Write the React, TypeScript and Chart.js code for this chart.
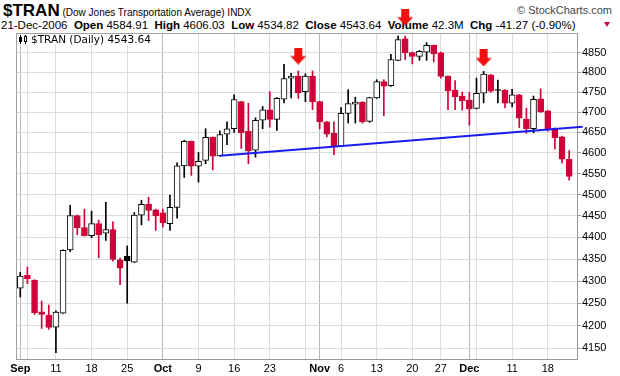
import React, { useEffect, useRef } from "react";
import { Chart, registerables } from "chart.js";

Chart.register(...registerables);

// Trading days shown (Sep 1 – Dec 21, 2006)
const tradingDays = [
  "9/1", "9/5", "9/6", "9/7", "9/8", "9/11", "9/12", "9/13", "9/14", "9/15",
  "9/18", "9/19", "9/20", "9/21", "9/22", "9/25", "9/26", "9/27", "9/28", "9/29",
  "10/2", "10/3", "10/4", "10/5", "10/6", "10/9", "10/10", "10/11", "10/12", "10/13",
  "10/16", "10/17", "10/18", "10/19", "10/20", "10/23", "10/24", "10/25", "10/26", "10/27",
  "10/30", "10/31", "11/1", "11/2", "11/3", "11/6", "11/7", "11/8", "11/9", "11/10",
  "11/13", "11/14", "11/15", "11/16", "11/17", "11/20", "11/21", "11/22", "11/24", "11/27",
  "11/28", "11/29", "11/30", "12/1", "12/4", "12/5", "12/6", "12/7", "12/8", "12/11",
  "12/12", "12/13", "12/14", "12/15", "12/18", "12/19", "12/20", "12/21",
];

const opens = [
  4284, 4313, 4302, 4231, 4223, 4197, 4228, 4371, 4451, 4423,
  4404, 4432, 4410, 4418, 4348, 4357, 4343, 4452, 4478, 4464,
  4457, 4432, 4470, 4569, 4628, 4568, 4582, 4638, 4593, 4646,
  4659, 4726, 4653, 4607, 4680, 4706, 4682, 4732, 4785, 4790,
  4751, 4790, 4726, 4676, 4648, 4617, 4697, 4720, 4725, 4677,
  4735, 4776, 4766, 4830, 4885, 4850, 4840, 4851, 4868, 4849,
  4790, 4755, 4740, 4730, 4709, 4747, 4793, 4756, 4755, 4722,
  4743, 4683, 4659, 4733, 4703, 4660, 4639, 4584.91,
];
const highs = [
  4320, 4332, 4303, 4255, 4246, 4233, 4371, 4475, 4452, 4466,
  4461, 4440, 4482, 4436, 4352, 4380, 4458, 4487, 4494, 4466,
  4466, 4499, 4576, 4631, 4629, 4601, 4659, 4639, 4654, 4676,
  4743, 4727, 4722, 4686, 4714, 4751, 4736, 4820, 4797, 4803,
  4796, 4803, 4727, 4677, 4676, 4711, 4756, 4737, 4726, 4737,
  4781, 4781, 4845, 4892, 4892, 4851, 4855, 4875, 4869, 4851,
  4791, 4779, 4750, 4749, 4785, 4802, 4794, 4780, 4756, 4757,
  4744, 4710, 4740, 4758, 4704, 4661, 4641, 4606.03,
];
const lows = [
  4264, 4294, 4225, 4194, 4192, 4141, 4227, 4367, 4406, 4403,
  4399, 4353, 4393, 4345, 4292, 4250, 4342, 4429, 4439, 4416,
  4424, 4416, 4445, 4541, 4546, 4530, 4574, 4559, 4592, 4620,
  4650, 4611, 4574, 4590, 4659, 4663, 4655, 4723, 4735, 4734,
  4726, 4706, 4659, 4639, 4596, 4616, 4673, 4673, 4673, 4675,
  4734, 4691, 4764, 4829, 4832, 4821, 4830, 4830, 4826, 4785,
  4706, 4706, 4705, 4668, 4708, 4723, 4749, 4723, 4711, 4713,
  4662, 4648, 4649, 4699, 4653, 4610, 4576, 4534.82,
];
const closes = [
  4311, 4305, 4229, 4225, 4196, 4230, 4370, 4451, 4422, 4404,
  4432, 4406, 4418, 4349, 4329, 4346, 4452, 4477, 4463, 4450,
  4434, 4470, 4569, 4628, 4568, 4580, 4638, 4592, 4645, 4659,
  4731, 4649, 4605, 4680, 4706, 4682, 4734, 4784, 4790, 4748,
  4790, 4726, 4676, 4646, 4617, 4697, 4721, 4725, 4676, 4736,
  4776, 4765, 4832, 4883, 4849, 4840, 4853, 4868, 4847, 4789,
  4753, 4738, 4728, 4708, 4747, 4795, 4752, 4754, 4722, 4743,
  4685, 4659, 4732, 4701, 4658, 4637, 4584.91, 4543.64,
];

// Axis ticks
const yTicks = [4150, 4200, 4250, 4300, 4350, 4400, 4450, 4500, 4550, 4600, 4650, 4700, 4750, 4800, 4850];
const xTickDates = ["9/1", "9/5", "9/11", "9/18", "9/25", "10/2", "10/9", "10/16", "10/23", "10/30", "11/1", "11/6", "11/13", "11/20", "11/27", "12/1", "12/4", "12/11", "12/18"];
const xTickLabels = ["Sep", "", "11", "18", "25", "Oct", "9", "16", "23", "", "Nov", "6", "13", "20", "27", "Dec", "", "11", "18"];
const monthDates = ["9/1", "10/2", "11/1", "12/1"];

// Trend line (date index, price)
const trendX = [28, 78.9];
const trendY = [4593, 4664];

// Red marker arrows (date, price)
const arrowDates = ["10/27", "11/17", "12/5"];
const arrowY = [4841, 4941, 4836];

const RED = "#d20038";
const ARROW_RED = "#f01010";
const BLUE = "#1a1aee";
const FONT = "'Liberation Sans', Arial, sans-serif";

export default function App() {
  const ref = useRef<HTMLCanvasElement>(null);

  useEffect(() => {
    const canvas = ref.current;
    if (!canvas) return;

    const arrowImg = document.createElement("canvas");
    arrowImg.width = 16;
    arrowImg.height = 17;
    const g = arrowImg.getContext("2d")!;
    g.fillStyle = ARROW_RED;
    g.fillRect(4, 0, 8, 9);
    g.beginPath();
    g.moveTo(0, 8.5);
    g.lineTo(16, 8.5);
    g.lineTo(8, 17);
    g.closePath();
    g.fill();

    const ix = opens.map((_, i) => i);
    const isUp = (i: number) => i === 0 || closes[i] >= closes[i - 1];
    const col = ix.map((i) => (isUp(i) ? "#000000" : RED));
    const fill = ix.map((i) => (closes[i] < opens[i] ? col[i] : "#ffffff"));
    const tickIdx = xTickDates.map((d) => tradingDays.indexOf(d));
    const monthIdx = monthDates.map((d) => tradingDays.indexOf(d));
    const arrowIdx = arrowDates.map((d) => tradingDays.indexOf(d));

    const framePlugin = {
      id: "frame",
      afterDraw(chart: any) {
        const { ctx, chartArea: a } = chart;
        ctx.save();
        ctx.strokeStyle = "#a0a0a0";
        ctx.lineWidth = 1;
        ctx.beginPath();
        ctx.moveTo(Math.round(a.left) + 0.5, Math.round(a.bottom));
        ctx.lineTo(Math.round(a.left) + 0.5, Math.round(a.top) + 0.5);
        ctx.lineTo(Math.round(a.right), Math.round(a.top) + 0.5);
        ctx.stroke();
        ctx.restore();
      },
    };

    const chart = new Chart(canvas, {
      type: "bar",
      data: {
        datasets: [
          {
            type: "bar",
            label: "wick",
            data: ix.map((i) => ({ x: i, y: [lows[i], highs[i]] })),
            backgroundColor: col,
            barThickness: 1,
            grouped: false,
            order: 3,
          } as any,
          {
            type: "bar",
            label: "body",
            data: ix.map((i) => ({ x: i, y: [opens[i], closes[i]] })),
            backgroundColor: fill,
            borderColor: col,
            borderWidth: 1,
            borderSkipped: false,
            barThickness: 6,
            grouped: false,
            order: 2,
          } as any,
          {
            type: "line",
            label: "trend",
            data: trendX.map((x, k) => ({ x, y: trendY[k] })),
            borderColor: BLUE,
            borderWidth: 2,
            pointRadius: 0,
            clip: false,
            order: 1,
          } as any,
          {
            type: "scatter",
            label: "arrows",
            data: arrowIdx.map((x, k) => ({ x, y: arrowY[k] })),
            pointStyle: arrowImg,
            pointRadius: 22,
            pointHoverRadius: 22,
            clip: false,
            order: 0,
          } as any,
        ],
      },
      options: {
        responsive: false,
        animation: false,
        devicePixelRatio: 1,
        events: [],
        layout: { autoPadding: false, padding: { left: 16, top: 33, right: 0, bottom: 0 } },
        plugins: { legend: { display: false }, tooltip: { enabled: false } },
        scales: {
          x: {
            type: "linear",
            min: -0.6,
            max: 78.1,
            offset: false,
            afterBuildTicks: (s: any) => {
              s.ticks = tickIdx.map((v) => ({ value: v }));
            },
            afterFit: (s: any) => {
              s.height = 17;
              s.paddingLeft = 0;
              s.paddingRight = 0;
            },
            grid: {
              offset: false,
              drawTicks: false,
              color: (c: any) => (c.tick && monthIdx.includes(c.tick.value) ? "#b8b8b8" : "#dcdcdc"),
            },
            border: { color: "#999999" },
            ticks: {
              autoSkip: false,
              maxRotation: 0,
              padding: 3,
              color: "#000",
              font: (c: any) => ({
                family: FONT,
                size: 11,
                weight: c.tick && monthIdx.includes(c.tick.value) ? "bold" : "normal",
              }),
              callback: (v: any) => {
                const k = tickIdx.indexOf(Number(v));
                return k >= 0 ? xTickLabels[k] : "";
              },
            },
          },
          y: {
            type: "logarithmic",
            position: "right",
            min: 4127,
            max: 4900,
            afterBuildTicks: (s: any) => {
              s.ticks = yTicks.map((v) => ({ value: v }));
            },
            afterFit: (s: any) => {
              s.width = 43;
              s.paddingTop = 0;
              s.paddingBottom = 0;
            },
            grid: { color: "#dcdcdc", tickLength: 4, tickColor: "#999999" },
            border: { color: "#999999" },
            ticks: {
              padding: 1,
              color: "#000",
              font: { family: FONT, size: 11 },
              callback: (v: any) => String(v),
            },
          },
        },
      } as any,
      plugins: [framePlugin],
    });

    return () => chart.destroy();
  }, []);

  return (
    <div
      style={{
        position: "fixed",
        left: 0,
        top: 0,
        width: 620,
        height: 376,
        background: "#fff",
        overflow: "hidden",
        fontFamily: FONT,
        color: "#000",
      }}
    >
      <div style={{ position: "absolute", left: 3, top: 1, whiteSpace: "pre", lineHeight: "20px", zIndex: 0 }}>
        <span style={{ fontFamily: "'Liberation Sans Narrow', 'Arial Narrow', " + FONT, fontWeight: "bold", fontSize: 17 }}>
          $TRAN
        </span>
        <span style={{ fontSize: 10 }}> (Dow Jones Transportation Average) INDX</span>
      </div>
      <div style={{ position: "absolute", right: 8, top: 3, fontSize: 11, lineHeight: "14px", color: "#444", zIndex: 0 }}>
        © StockCharts.com
      </div>
      <div style={{ position: "absolute", left: 1, top: 18, whiteSpace: "pre", fontSize: 11.5, lineHeight: "14px", zIndex: 0 }}>
        <span>21-Dec-2006  </span>
        <b>Open</b>
        <span> 4584.91  </span>
        <b>High</b>
        <span> 4606.03  </span>
        <b>Low</b>
        <span> 4534.82  </span>
        <b>Close</b>
        <span> 4543.64  </span>
        <b>Volume</b>
        <span> 42.3M  </span>
        <b>Chg</b>
        <span> -41.27 (-0.90%)</span>
      </div>
      <div
        style={{
          position: "absolute",
          left: 604,
          top: 22,
          width: 0,
          height: 0,
          borderLeft: "3.5px solid transparent",
          borderRight: "3.5px solid transparent",
          borderTop: "5px solid " + RED,
          zIndex: 0,
        }}
      />
      <canvas ref={ref} width={620} height={376} style={{ position: "absolute", left: 0, top: 0, zIndex: 1 }} />
      <div
        style={{
          position: "absolute",
          left: 17,
          top: 34,
          height: 11,
          background: "#fff",
          zIndex: 2,
          whiteSpace: "pre",
          fontFamily: "'DejaVu Sans', Verdana, sans-serif",
          fontSize: 10.5,
          lineHeight: "11px",
          padding: "0 3px 0 2px",
          display: "flex",
          alignItems: "center",
        }}
      >
        <svg width="10" height="9" style={{ marginRight: 2 }}>
          <line x1="1.5" y1="0" x2="1.5" y2="9" stroke="#000" strokeWidth="1" />
          <rect x="0" y="2" width="3" height="5" fill="#000" />
          <line x1="6.5" y1="0" x2="6.5" y2="9" stroke="#000" strokeWidth="1" />
          <rect x="5.5" y="1.5" width="2" height="5" fill="#fff" stroke="#000" strokeWidth="1" />
        </svg>
        <span>$TRAN (Daily) 4543.64</span>
      </div>
    </div>
  );
}
